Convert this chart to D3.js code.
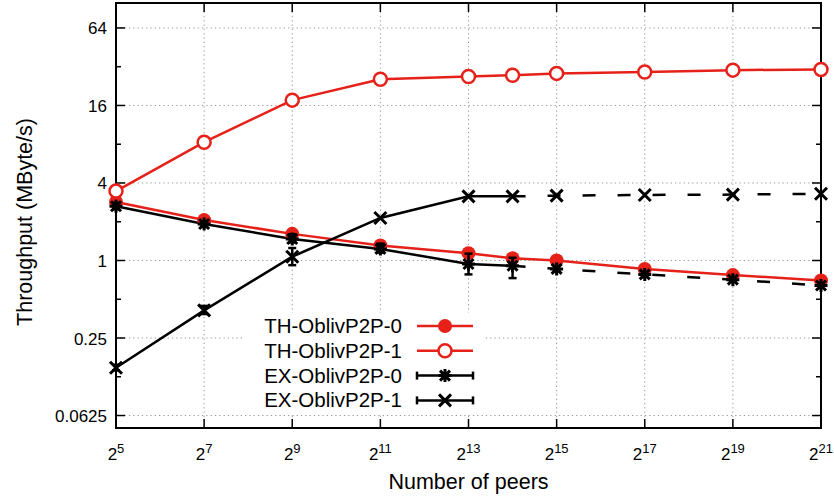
<!DOCTYPE html>
<html>
<head>
<meta charset="utf-8">
<script src="https://cdn.jsdelivr.net/npm/d3@7"></script>
<style>
  html, body { margin: 0; padding: 0; background: #fff; }
  svg text { font-family: "Liberation Sans", Arial, sans-serif; fill: #000; }
</style>
</head>
<body>
<div id="chart"></div>
<script>
// number of peers (x), one entry per measured point
const peers = [32, 128, 512, 2048, 8192, 16384, 32768, 131072, 524288, 2097152];
const measuredUpTo = 16384; // EX lines turn dashed after this

const th0 = [2.85, 2.06, 1.61, 1.31, 1.14, 1.04, 1.0, 0.86, 0.77, 0.70];
const th1 = [3.46, 8.3, 17.6, 25.6, 26.9, 27.5, 28.4, 29.1, 30.1, 30.5];
const ex0 = [2.64, 1.92, 1.47, 1.23, 0.94, 0.91, 0.86, 0.78, 0.71, 0.64];
const ex1 = [0.147, 0.41, 1.07, 2.14, 3.15, 3.15, 3.19, 3.23, 3.25, 3.3];

const ex0Low  = [2.5, 1.82, 1.38, 1.15, 0.78, 0.73, null, null, null, null];
const ex0High = [2.8, 2.02, 1.6, 1.35, 1.13, 1.05, null, null, null, null];
const ex1Low  = [0.14, 0.384, 0.92, null, null, null, null, null, null, null];
const ex1High = [0.155, 0.444, 1.25, null, null, null, null, null, null, null];

const xTickExps = [5, 7, 9, 11, 13, 15, 17, 19, 21];
const yTicks = [0.0625, 0.25, 1, 4, 16, 64];
const yMinorTicks = [0.125, 0.5, 2, 8, 32];
const legendLabels = ['TH-OblivP2P-0', 'TH-OblivP2P-1', 'EX-OblivP2P-0', 'EX-OblivP2P-1'];

const RED = '#e5211a';

class ThroughputChart {
  constructor(_config) {
    this.config = {
      parentElement: _config.parentElement,
      containerWidth: _config.containerWidth || 834,
      containerHeight: _config.containerHeight || 497,
      margin: _config.margin || { top: 3, right: 13, bottom: 69, left: 116 }
    };
    this.initVis();
  }

  initVis() {
    const vis = this;
    const m = vis.config.margin;
    vis.width = vis.config.containerWidth - m.left - m.right;
    vis.height = vis.config.containerHeight - m.top - m.bottom;

    vis.svg = d3.select(vis.config.parentElement)
      .append('svg')
      .attr('width', vis.config.containerWidth)
      .attr('height', vis.config.containerHeight);

    vis.chart = vis.svg.append('g')
      .attr('transform', `translate(${m.left},${m.top})`);

    vis.xScale = d3.scaleLog().base(2).domain([2 ** 5, 2 ** 21]).range([0, vis.width]);
    vis.yScale = d3.scaleLog().base(2).domain([0.05, 100]).range([vis.height, 0]);

    vis.renderVis();
  }

  renderVis() {
    const vis = this;
    const x = vis.xScale, y = vis.yScale;
    const W = vis.width, H = vis.height;

    // grid
    const grid = vis.chart.append('g')
      .attr('stroke', '#9a9a9a')
      .attr('stroke-width', 1)
      .attr('stroke-dasharray', '1.3,3');
    grid.selectAll('.gx').data(xTickExps).join('line')
      .attr('x1', d => x(2 ** d)).attr('x2', d => x(2 ** d))
      .attr('y1', 0).attr('y2', H);
    grid.selectAll('.gy').data(yTicks).join('line')
      .attr('x1', 0).attr('x2', W)
      .attr('y1', d => y(d)).attr('y2', d => y(d));

    // ticks on all four sides
    const ticks = vis.chart.append('g').attr('stroke', '#000').attr('stroke-width', 1.5);
    ticks.selectAll('.tb').data(xTickExps).join('line')
      .attr('x1', d => x(2 ** d)).attr('x2', d => x(2 ** d))
      .attr('y1', H).attr('y2', H - 9);
    ticks.selectAll('.tt').data(xTickExps).join('line')
      .attr('x1', d => x(2 ** d)).attr('x2', d => x(2 ** d))
      .attr('y1', 0).attr('y2', 9);
    ticks.selectAll('.tl').data(yTicks).join('line')
      .attr('x1', 0).attr('x2', 9).attr('y1', d => y(d)).attr('y2', d => y(d));
    ticks.selectAll('.tr').data(yTicks).join('line')
      .attr('x1', W).attr('x2', W - 9).attr('y1', d => y(d)).attr('y2', d => y(d));
    ticks.selectAll('.ml').data(yMinorTicks).join('line')
      .attr('x1', 0).attr('x2', 5).attr('y1', d => y(d)).attr('y2', d => y(d));
    ticks.selectAll('.mr').data(yMinorTicks).join('line')
      .attr('x1', W).attr('x2', W - 5).attr('y1', d => y(d)).attr('y2', d => y(d));

    // tick labels
    vis.chart.selectAll('.ylab').data(yTicks).join('text')
      .attr('class', 'ylab')
      .attr('x', -9)
      .attr('y', d => y(d) + 6.5)
      .attr('text-anchor', 'end')
      .attr('font-size', 17)
      .text(d => d);

    const xl = vis.chart.selectAll('.xlab').data(xTickExps).join('text')
      .attr('class', 'xlab')
      .attr('x', d => x(2 ** d))
      .attr('y', H + 32)
      .attr('text-anchor', 'middle')
      .attr('font-size', 17);
    xl.append('tspan').text('2');
    xl.append('tspan').attr('font-size', 13).attr('dy', -7).text(d => d);

    // axis titles
    vis.chart.append('text')
      .attr('x', W / 2)
      .attr('y', H + 61)
      .attr('text-anchor', 'middle')
      .attr('font-size', 21.5)
      .text('Number of peers');
    vis.svg.append('text')
      .attr('transform', `translate(31.5, 222) rotate(-90)`)
      .attr('text-anchor', 'middle')
      .attr('font-size', 21.5)
      .text('Throughput (MByte/s)');

    // opaque key background
    vis.svg.append('rect')
      .attr('x', 245).attr('y', 313)
      .attr('width', 238).attr('height', 101)
      .attr('fill', '#fff');

    // frame
    vis.chart.append('rect')
      .attr('width', W).attr('height', H)
      .attr('fill', 'none').attr('stroke', '#000').attr('stroke-width', 2);

    const line = d3.line().x(d => x(d[0])).y(d => y(d[1]));
    const pts = vals => peers.map((p, i) => [p, vals[i]]);

    // TH lines
    [th0, th1].forEach(vals => {
      vis.chart.append('path')
        .attr('d', line(pts(vals)))
        .attr('fill', 'none').attr('stroke', RED).attr('stroke-width', 2.5);
    });

    // EX lines: solid while measured, dashed afterwards
    const exSeries = [
      { vals: ex0, lo: ex0Low, hi: ex0High, marker: 'star' },
      { vals: ex1, lo: ex1Low, hi: ex1High, marker: 'cross' }
    ];
    exSeries.forEach(s => {
      const all = pts(s.vals);
      vis.chart.append('path')
        .attr('d', line(all.filter(d => d[0] <= measuredUpTo)))
        .attr('fill', 'none').attr('stroke', '#000').attr('stroke-width', 2.5);
      vis.chart.append('path')
        .attr('d', line(all.filter(d => d[0] >= measuredUpTo)))
        .attr('fill', 'none').attr('stroke', '#000').attr('stroke-width', 2.5)
        .attr('stroke-dasharray', '13,22');
    });

    // markers
    vis.chart.selectAll('.th0').data(pts(th0)).join('circle')
      .attr('cx', d => x(d[0])).attr('cy', d => y(d[1])).attr('r', 7)
      .attr('fill', RED);
    vis.chart.selectAll('.th1').data(pts(th1)).join('circle')
      .attr('cx', d => x(d[0])).attr('cy', d => y(d[1])).attr('r', 6.5)
      .attr('fill', '#fff').attr('stroke', RED).attr('stroke-width', 2.5);

    const markerPath = {
      star: 'M-6.5,0H6.5M0,-6.5V6.5M-5,-5L5,5M-5,5L5,-5',
      cross: 'M-6,-6L6,6M-6,6L6,-6'
    };

    exSeries.forEach(s => {
      const errs = peers.map((p, i) => [p, s.lo[i], s.hi[i]]).filter(d => d[1] != null);
      const eg = vis.chart.append('g').attr('stroke', '#000').attr('stroke-width', 2.5);
      errs.forEach(d => {
        const cx = x(d[0]);
        eg.append('line').attr('x1', cx).attr('x2', cx).attr('y1', y(d[1])).attr('y2', y(d[2]));
        eg.append('line').attr('x1', cx - 4).attr('x2', cx + 4).attr('y1', y(d[1])).attr('y2', y(d[1]));
        eg.append('line').attr('x1', cx - 4).attr('x2', cx + 4).attr('y1', y(d[2])).attr('y2', y(d[2]));
      });
      vis.chart.append('g').selectAll('path').data(pts(s.vals)).join('path')
        .attr('transform', d => `translate(${x(d[0])},${y(d[1])})`)
        .attr('d', markerPath[s.marker])
        .attr('fill', 'none').attr('stroke', '#000').attr('stroke-width', 3);
    });

    vis.drawLegend(markerPath);
  }

  drawLegend(markerPath) {
    const vis = this;
    const legendG = vis.svg.append('g').attr('class', 'legend');
    const rowY = i => 326 + i * 24.8;
    const styles = [
      { color: RED, kind: 'filled' },
      { color: RED, kind: 'open' },
      { color: '#000', kind: 'star' },
      { color: '#000', kind: 'cross' }
    ];

    legendLabels.forEach((label, i) => {
      const cy = rowY(i);
      const st = styles[i];
      legendG.append('text')
        .attr('x', 402).attr('y', cy + 7)
        .attr('text-anchor', 'end')
        .attr('font-size', 20.5)
        .text(label);
      legendG.append('line')
        .attr('x1', 417).attr('x2', 473).attr('y1', cy).attr('y2', cy)
        .attr('stroke', st.color).attr('stroke-width', 2.5);
      if (st.kind === 'filled') {
        legendG.append('circle').attr('cx', 445).attr('cy', cy).attr('r', 7).attr('fill', RED);
      } else if (st.kind === 'open') {
        legendG.append('circle').attr('cx', 445).attr('cy', cy).attr('r', 6.5)
          .attr('fill', '#fff').attr('stroke', RED).attr('stroke-width', 2.5);
      } else {
        [417, 473].forEach(ex => {
          legendG.append('line')
            .attr('x1', ex).attr('x2', ex).attr('y1', cy - 4).attr('y2', cy + 4)
            .attr('stroke', '#000').attr('stroke-width', 2.5);
        });
        legendG.append('path')
          .attr('transform', `translate(445,${cy})`)
          .attr('d', markerPath[st.kind])
          .attr('fill', 'none').attr('stroke', '#000').attr('stroke-width', 3);
      }
    });
  }
}

new ThroughputChart({ parentElement: '#chart' });
</script>
</body>
</html>
